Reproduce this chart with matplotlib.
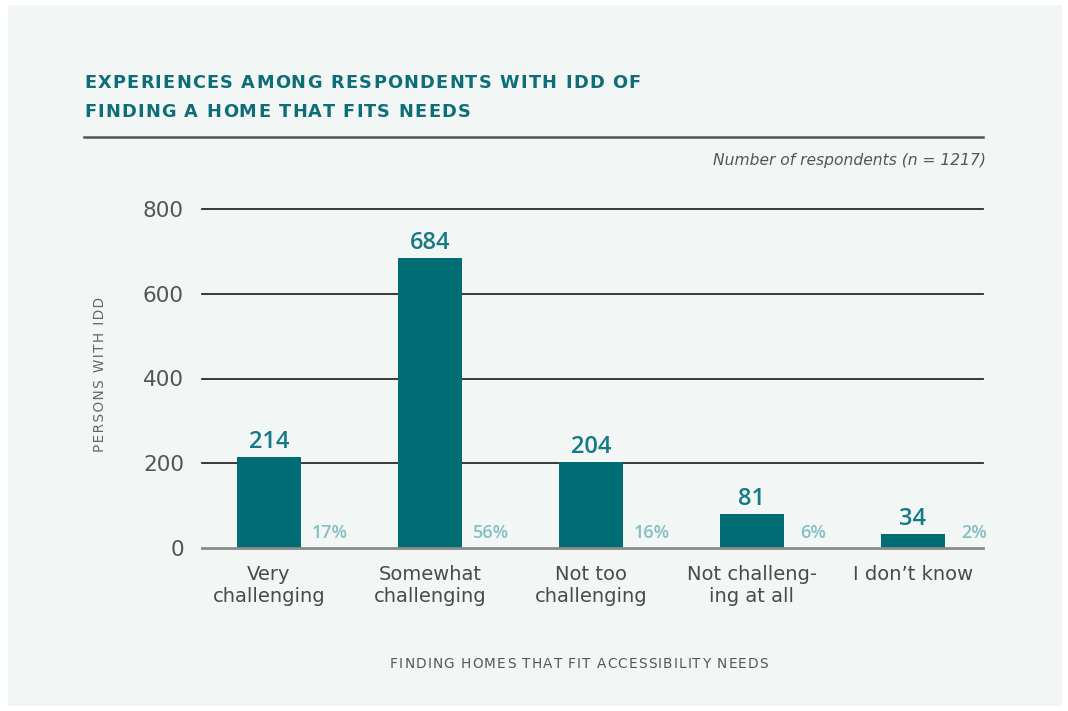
import matplotlib
matplotlib.use("Agg")
import matplotlib.pyplot as plt
from matplotlib.patches import Rectangle
from matplotlib.lines import Line2D
from matplotlib.textpath import TextToPath
from matplotlib.font_manager import FontProperties

categories = ["Very\nchallenging", "Somewhat\nchallenging", "Not too\nchallenging",
              "Not challeng-\ning at all", "I don\u2019t know"]
counts = [214, 684, 204, 81, 34]
percents = ["17%", "56%", "16%", "6%", "2%"]
yticks = [0, 200, 400, 600, 800]

title_lines = ["EXPERIENCES AMONG RESPONDENTS WITH IDD OF", "FINDING A HOME THAT FITS NEEDS"]
subtitle = "Number of respondents (n = 1217)"
ylabel = "PERSONS WITH IDD"
xlabel = "FINDING HOMES THAT FIT ACCESSIBILITY NEEDS"

BAR = "#006d75"
VAL = "#147a85"
PCT = "#85bfc6"
GRAY = "#4a4a4a"
BG = "#f2f6f5"
DV = "DejaVu Sans"
OS = ["Open Sans", "DejaVu Sans"]

W, H, DPI = 1068, 711, 100
fig = plt.figure(figsize=(W / DPI, H / DPI), dpi=DPI, facecolor="white")
fig.patches.append(Rectangle((8 / W, 1 - 706 / H), (1062 - 8) / W, (706 - 5) / H,
                             transform=fig.transFigure, facecolor=BG, edgecolor="none", zorder=-10))


def fx(px):
    return px / W


def fy(py):
    return 1 - py / H


_ttp = TextToPath()


def adv_px(s, fp):
    a = _ttp.get_text_width_height_descent("X" + s + "X", fp, ismath=False)[0]
    b = _ttp.get_text_width_height_descent("XX", fp, ismath=False)[0]
    return (a - b) * DPI / 72.0


def tracked(s, start_px, base_px, fp, color, track):
    """Draw s char by char with extra letter spacing (pixels)."""
    for i, ch in enumerate(s):
        if ch == " ":
            continue
        off = adv_px(s[:i], fp) + i * track
        fig.text(fx(start_px + off), fy(base_px), ch, ha="left", va="baseline",
                 fontproperties=fp, color=color)


def track_for(s, fp, width):
    return (width - adv_px(s, fp)) / (len(s) - 1)


# title
fp_title = FontProperties(family=DV, weight="bold", size=12.8)
tr = track_for(title_lines[0], fp_title, 641 - 84)
tracked(title_lines[0], 84, 88, fp_title, "#0d6e78", tr)
tracked(title_lines[1], 84, 117, fp_title, "#0d6e78", tr)

fig.add_artist(Line2D([fx(84), fx(983)], [fy(137), fy(137)], color="#555555", lw=1.8,
                      transform=fig.transFigure))
fig.text(fx(986), fy(160), subtitle, ha="right", va="center", fontsize=11.2, style="italic",
         color="#555555", family=DV)

ax = fig.add_axes([fx(202), fy(548), fx(983) - fx(202), fy(209) - fy(548)])
ax.set_facecolor("none")
x = list(range(len(categories)))
ax.set_xlim(-0.416, 4.435)
ax.set_ylim(0, 800)

for t in yticks[1:]:
    ax.axhline(t, color="#2b2b2b", lw=1.3, zorder=1, clip_on=False)
ax.axhline(0, color="#8a8a8a", lw=2.0, zorder=3, clip_on=False)

ax.bar(x, counts, width=0.40, color=BAR, zorder=2)

for xi, c, p in zip(x, counts, percents):
    ax.annotate(str(c), (xi, c), xytext=(0, 6.5), textcoords="offset points",
                ha="center", va="baseline", fontsize=17, fontweight="semibold",
                color=VAL, family=OS)
    ax.annotate(p, (xi + 0.38, 0), xytext=(0, 7.2), textcoords="offset points",
                ha="center", va="baseline", fontsize=13, fontweight="semibold",
                color=PCT, family=OS)

for s in ax.spines.values():
    s.set_visible(False)
ax.set_yticks(yticks)
ax.set_yticklabels([str(t) for t in yticks], fontsize=15.5, color="#555555", family=DV)
ax.tick_params(axis="y", length=0, pad=13)
ax.set_xticks(x)
ax.set_xticklabels(categories, fontsize=14, color=GRAY, family=DV, linespacing=1.25)
ax.tick_params(axis="x", length=0, pad=12)

# y axis title: one rotated string, letter-spaced with hair/thin spaces
fp_y = FontProperties(family=DV, size=9.8)
best = None
for j in ["", "\u200a", "\u2009", "\u200a\u200a", "\u2009\u200a", "\u2009\u2009"]:
    cand = j.join(ylabel)
    d = abs(adv_px(cand, fp_y) - 148)
    if best is None or d < best[0]:
        best = (d, cand)
fig.text(fx(100), fy(374), best[1], rotation=90, ha="center", va="center",
         fontproperties=fp_y, color="#666666")

fp_x = FontProperties(family=DV, size=9.8)
tracked(xlabel, 390, 668, fp_x, "#555555", track_for(xlabel, fp_x, 378))

fig.savefig("out.png", dpi=DPI, facecolor="white")
